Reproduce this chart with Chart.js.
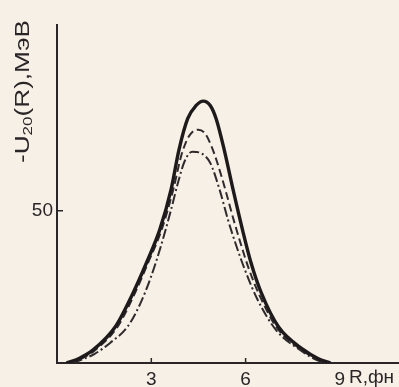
<!DOCTYPE html>
<html>
<head>
<meta charset="utf-8">
<script src="https://cdn.jsdelivr.net/npm/chart.js@4/dist/chart.umd.min.js"></script>
<style>
  html, body { margin: 0; padding: 0; background: #f6f0e6; }
  #wrap { width: 399px; height: 387px; position: relative; }
</style>
</head>
<body>
<div id="wrap"><canvas id="chart"></canvas></div>
<script>
// R (фн) and -U20 (МэВ)
const solidR = [0.3, 0.7, 1.15, 1.85, 2.42, 2.85, 3.27, 3.63, 3.88, 4.16, 4.42, 4.65, 4.88, 5.06, 5.32, 5.6, 5.9, 6.17, 6.5, 7.05, 7.85, 8.3, 8.7];
const solidU = [0, 1.5, 4.3, 11.8, 23, 33, 43.8, 57, 70, 80.3, 84.5, 86, 84.5, 80.3, 70, 57, 43.8, 33, 23, 11.8, 4.3, 1.5, 0];

const dashR = [0.4, 0.8, 1.22, 1.92, 2.48, 2.9, 3.33, 3.7, 3.95, 4.14, 4.3, 4.49, 4.7, 4.9, 5.09, 5.38, 5.62, 5.85, 6.1, 6.43, 7.0, 7.8, 8.25, 8.65];
const dashU = [0, 1.5, 4.3, 11.8, 23, 33, 43.8, 57, 68, 73.4, 75.8, 76.6, 75.5, 71.5, 66.1, 56, 47, 39, 31, 22.5, 11.5, 4.2, 1.4, 0];

const dotR = [0.5, 1.2, 1.69, 2.25, 2.65, 2.98, 3.3, 3.62, 3.87, 4.07, 4.3, 4.6, 4.87, 5.17, 5.44, 5.72, 6.0, 6.37, 6.97, 7.8, 8.25, 8.6];
const dotU = [0, 3, 6.6, 12, 19.5, 28, 38.2, 50, 60, 66.5, 69.4, 68.8, 65.8, 57, 47, 38, 30, 21, 10.8, 3.8, 1, 0];

const xTicks = [3, 6, 9];
const xMarks = [3, 6];
const yTicks = [50];

const pts = (xs, ys) => xs.map((x, i) => ({ x: x, y: ys[i] }));
const FONT = '"Liberation Sans", Arial, sans-serif';
const INK = '#2a2527';

// tick marks inside the plot, the rotated y caption and the R caption
const extras = {
    id: 'extras',
    afterDraw(chart) {
        const ctx = chart.ctx;
        const xs = chart.scales.x, ys = chart.scales.y;
        ctx.save();
        ctx.strokeStyle = INK;
        ctx.lineWidth = 1.5;
        xMarks.forEach(v => {
            const px = xs.getPixelForValue(v);
            ctx.beginPath();
            ctx.moveTo(px, ys.bottom);
            ctx.lineTo(px, ys.bottom - 5);
            ctx.stroke();
        });
        yTicks.forEach(v => {
            const py = ys.getPixelForValue(v);
            ctx.beginPath();
            ctx.moveTo(xs.left, py);
            ctx.lineTo(xs.left + 6, py);
            ctx.stroke();
        });

        ctx.fillStyle = INK;
        ctx.font = '19px ' + FONT;
        ctx.textBaseline = 'middle';
        ctx.fillText('R,фн', xs.getPixelForValue(9) + 9, ys.bottom + 15);

        // y caption: -U20(R),МэВ written bottom to top
        const parts = [['-U', 20, 0], ['20', 13, 5], ['(R),МэВ', 20, 0]];
        let w = 0;
        parts.forEach(p => { ctx.font = p[1] + 'px ' + FONT; w += ctx.measureText(p[0]).width; });
        const len = 143;
        ctx.translate(23, 163);
        ctx.rotate(-Math.PI / 2);
        ctx.scale(len / w, 1);
        let x = 0;
        parts.forEach(p => {
            ctx.font = p[1] + 'px ' + FONT;
            ctx.fillText(p[0], x, p[2]);
            x += ctx.measureText(p[0]).width;
        });
        ctx.restore();
    }
};

const ctx = document.getElementById('chart').getContext('2d');
new Chart(ctx, {
    type: 'line',
    data: {
        datasets: [
            { data: pts(solidR, solidU), borderColor: '#1e1a1c', borderWidth: 3.4, cubicInterpolationMode: 'monotone', pointRadius: 0 },
            { data: pts(dashR, dashU), borderColor: '#2f2a2d', borderWidth: 2, borderDash: [8, 4], cubicInterpolationMode: 'monotone', pointRadius: 0 },
            { data: pts(dotR, dotU), borderColor: '#2f2a2d', borderWidth: 2, borderDash: [10, 3, 2, 3], cubicInterpolationMode: 'monotone', pointRadius: 0 }
        ]
    },
    options: {
        responsive: true,
        maintainAspectRatio: false,
        animation: false,
        layout: { padding: { top: 25, right: 0, left: 0, bottom: 0 } },
        plugins: { legend: { display: false }, tooltip: { enabled: false } },
        scales: {
            x: {
                type: 'linear',
                min: 0,
                max: 10.88,
                afterBuildTicks: s => { s.ticks = xTicks.map(v => ({ value: v })); },
                afterFit: s => { s.height = 24; },
                grid: { display: false, drawTicks: false },
                border: { color: INK, width: 2 },
                ticks: { color: INK, padding: 5, font: { size: 19, family: FONT } }
            },
            y: {
                min: 0,
                max: 111,
                afterBuildTicks: s => { s.ticks = yTicks.map(v => ({ value: v })); },
                afterFit: s => { s.width = 57; },
                grid: { display: false, drawTicks: false },
                border: { color: INK, width: 2 },
                ticks: { color: INK, padding: 4, font: { size: 19, family: FONT } }
            }
        }
    },
    plugins: [extras]
});
</script>
</body>
</html>
